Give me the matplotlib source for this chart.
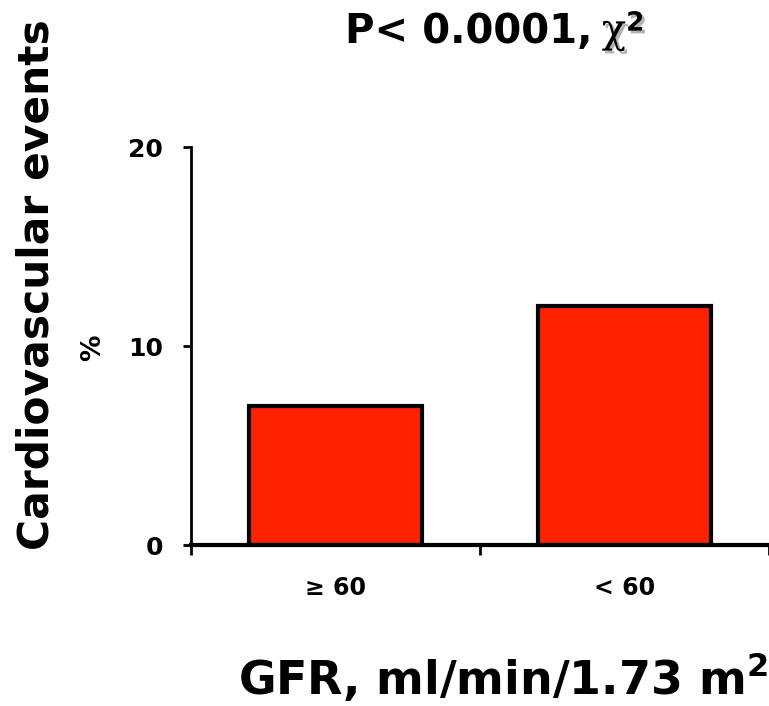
import matplotlib
matplotlib.use('Agg')
import numpy as np
from matplotlib import pyplot as plt
import matplotlib.patheffects as pe

# cardiovascular events (%) by GFR group
groups = ['\u2265 60', '< 60']
events = [7, 12]
yticks = [0, 10, 20]

plt.rcParams['font.family'] = ['DejaVu Sans']
plt.rcParams['font.weight'] = 'bold'

fig = plt.figure(figsize=(7.69, 7.06), dpi=100)
ax = fig.add_axes([0.2484, 0.228, 0.7516, 0.5637])

x = np.arange(len(groups))
ax.bar(x, events, width=0.6, color='#ff2200', edgecolor='black', linewidth=3, zorder=3)

ax.set_xlim(-0.5, 1.5)
ax.set_ylim(0, 20)
ax.set_yticks(yticks)
ax.set_yticklabels([str(v) for v in yticks], fontsize=18, fontweight='bold')
# ticks sit on the category boundaries, labels in the middle
ax.set_xticks([-0.5, 0.5, 1.5])
ax.set_xticklabels([])
ax.set_xticks(x, minor=True)
ax.set_xticklabels(groups, minor=True, fontsize=17, fontweight='bold')
ax.tick_params(axis='x', which='minor', length=0, pad=22)
ax.tick_params(axis='x', which='major', length=7, width=2, direction='out')
ax.tick_params(axis='y', length=6, width=2, pad=14)

for s in ['top', 'right']:
    ax.spines[s].set_visible(False)
ax.spines['left'].set_linewidth(2)
ax.spines['bottom'].set_linewidth(3)
ax.spines['bottom'].set_zorder(4)

fig.text(0.048, 0.597, 'Cardiovascular events', rotation=90, fontsize=30.5,
         fontweight='bold', ha='center', va='center')
fig.text(0.121, 0.508, '%', rotation=90, fontsize=19, fontweight='bold',
         ha='center', va='center')
fig.text(0.998, 0.04, 'GFR, ml/min/1.73 m$^{\\mathbf{2}}$', fontsize=33,
         fontweight='bold', ha='right', va='center')

t = fig.text(0.448, 0.955, 'P< 0.0001,', fontsize=29, fontweight='bold',
             ha='left', va='center')
shadow = [pe.withSimplePatchShadow(offset=(2, -2), shadow_rgbFace='gray', alpha=0.6)]
chi = ax.annotate('\u03c7', xy=(1.0, 0.5), xycoords=t, xytext=(7, 0),
                  textcoords='offset points', va='center', ha='left',
                  fontsize=29, fontweight='normal', family='DejaVu Serif',
                  annotation_clip=False, path_effects=shadow)
ax.annotate('2', xy=(1.0, 0.72), xycoords=chi, va='center', ha='left',
            fontsize=19, fontweight='bold', annotation_clip=False, path_effects=shadow)

fig.savefig('out.png', dpi=100)
